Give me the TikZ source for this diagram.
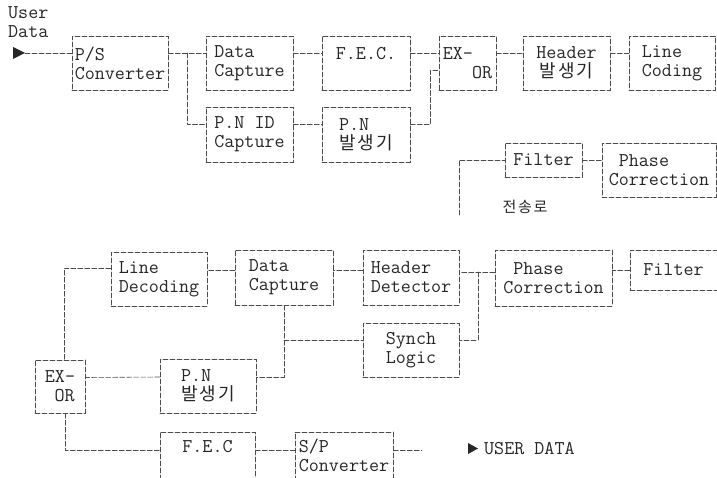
\documentclass[tikz,border=0pt]{standalone}
\usepackage{fontspec}
\newfontfamily\kor[LetterSpace=12]{Noto Sans CJK KR}

\tikzset{
  blk/.style={draw=black!70, line width=0.6pt, dash pattern=on 5pt off 2pt,
    inner sep=2pt, align=left, text=black!85,
    font=\ttfamily\fontsize{19.5}{19}\selectfont},
  wire/.style={draw=black!70, line width=0.6pt, dash pattern=on 5pt off 2pt},
  lbl/.style={text=black!85, font=\ttfamily\fontsize{19.5}{19}\selectfont, align=left},
}

\begin{document}
\begin{tikzpicture}[x=1pt,y=-1pt,line cap=round]
  \useasboundingbox (0,0) rectangle (717,478);
  % transmitter
  \node[lbl,anchor=north west,inner sep=0pt] (udlbl) at (8,6) {User\\Data};
  \fill[black!85] (13,47) -- (25,53) -- (13,59) -- cycle;
  \coordinate (udin) at (25,53);
  \node[blk,minimum width=96pt,minimum height=54pt] (ps) at (120,63) {P/S\\Converter};
  \node[blk,minimum width=87pt,minimum height=54pt] (dcap) at (249.5,63) {Data\\Capture};
  \node[blk,minimum width=88pt,minimum height=54pt] (fec) at (366,63) {F.E.C.\\\ };
  \node[blk,minimum width=57pt,minimum height=54pt] (xor) at (467.5,63) {EX-\\\hspace{1.5em}OR};
  \node[blk,minimum width=87pt,minimum height=54pt,align=center] (hdr) at (566.5,63) {Header\\\kor\fontsize{18}{19}\selectfont 발생기};
  \node[blk,minimum width=86pt,minimum height=54pt] (lcod) at (672,63) {Line\\Coding};
  \node[blk,minimum width=87pt,minimum height=55pt] (pnid) at (249.5,134.5) {P.N ID\\Capture};
  \node[blk,minimum width=88pt,minimum height=55pt] (pngen) at (366,134.5) {P.N\\\kor\fontsize{18}{19}\selectfont 발생기};
  \node[blk,minimum width=77pt,minimum height=34pt] (filt) at (543.5,160) {Filter};
  \node[blk,minimum width=114pt,minimum height=54pt] (phc) at (659,170) {\ Phase\\Correction};
  \node[lbl,font=\kor\fontsize{15}{15}\selectfont] (chlbl) at (525,207) {전송로};
  \coordinate (br1) at (187,53);
  \coordinate (chtop) at (459,160);
  \coordinate (chbot) at (459,215);

  \draw[wire] (udin) -- ([yshift=10pt]ps.west);
  \draw[wire] ([yshift=10pt]ps.east) -- ([yshift=10pt]dcap.west);
  \draw[wire] (br1) |- ([yshift=10pt]pnid.west);
  \draw[wire] ([yshift=10pt]dcap.east) -- ([yshift=10pt]fec.west);
  \draw[wire] ([yshift=10pt]pnid.east) -- ([yshift=10pt]pngen.west);
  \draw[wire] ([yshift=10pt]fec.east) -- ([yshift=10pt]xor.west);
  \draw[wire] ([yshift=10pt]pngen.east) -- ++(20,0) |- ([yshift=-7pt]xor.west);
  \draw[wire] ([yshift=10pt]xor.east) -- ([yshift=10pt]hdr.west);
  \draw[wire] ([yshift=10pt]hdr.east) -- ([yshift=10pt]lcod.west);
  \draw[wire] (chbot) -- (chtop) -- (filt.west);
  \draw[wire] (filt.east) -- (phc.west |- filt.east);

  % receiver
  \node[blk,minimum width=96pt,minimum height=54pt] (ldec) at (159,279) {Line\\Decoding};
  \node[blk,minimum width=98pt,minimum height=55pt] (dcapr) at (284,277.5) {Data\\Capture};
  \node[blk,minimum width=96pt,minimum height=55pt] (hdet) at (411,277.5) {Header\\Detector};
  \node[blk,minimum width=117pt,minimum height=56pt] (phcr) at (553.5,278) {\ Phase\\Correction};
  \node[blk,minimum width=87pt,minimum height=40pt] (filtr) at (673.5,270) {Filter};
  \node[blk,minimum width=96pt,minimum height=54pt] (sync) at (411,350) {Synch\\Logic};
  \node[blk,minimum width=50pt,minimum height=53pt] (xorr) at (60,386.5) {EX-\\\hspace{0.5em}OR};
  \node[blk,minimum width=96pt,minimum height=54pt] (pngenr) at (208,386) {P.N\\\kor\fontsize{18}{19}\selectfont 발생기};
  \node[blk,minimum width=95pt,minimum height=47pt] (fecr) at (207.5,455.5) {F.E.C\\\ };
  \node[blk,minimum width=98pt,minimum height=47pt] (sp) at (344,455.5) {S/P\\Converter};
  \fill[black!85] (468,443) -- (478,448.5) -- (468,454) -- cycle;
  \node[lbl,anchor=west,inner sep=0pt] (udout) at (484,449) {USER DATA};
  \coordinate (spout) at (422,450);
  \coordinate (br2) at (478,272);
  \coordinate (br3) at (284,340);

  \draw[wire] (filtr.west) -- (phcr.east |- filtr.west);
  \draw[wire] ([yshift=6pt]phcr.west) -- (hdet.east |- br2);
  \draw[wire] (br2) |- ([yshift=10pt]sync.east);
  \draw[wire] ([yshift=7pt]hdet.west) -- ([yshift=7pt]dcapr.east);
  \draw[wire] ([yshift=7pt]dcapr.west) -- ([yshift=8.5pt]ldec.east);
  \draw[wire] ([yshift=11pt]ldec.west) -| ([xshift=4pt]xorr.north);
  \draw[wire] (dcapr.south) |- ([yshift=9pt]pngenr.east);
  \draw[wire] (br3) -- ([yshift=10pt]sync.west);
  \draw[wire] ([yshift=9pt]pngenr.west) -- ([yshift=9pt]xorr.east);
  \draw[wire] ([xshift=5pt]xorr.south) |- ([yshift=5.5pt]fecr.west);
  \draw[wire] ([yshift=5.5pt]fecr.east) -- ([yshift=5.5pt]sp.west);
  \draw[wire] ([yshift=5.5pt]sp.east) -- (spout);
\end{tikzpicture}
\end{document}
